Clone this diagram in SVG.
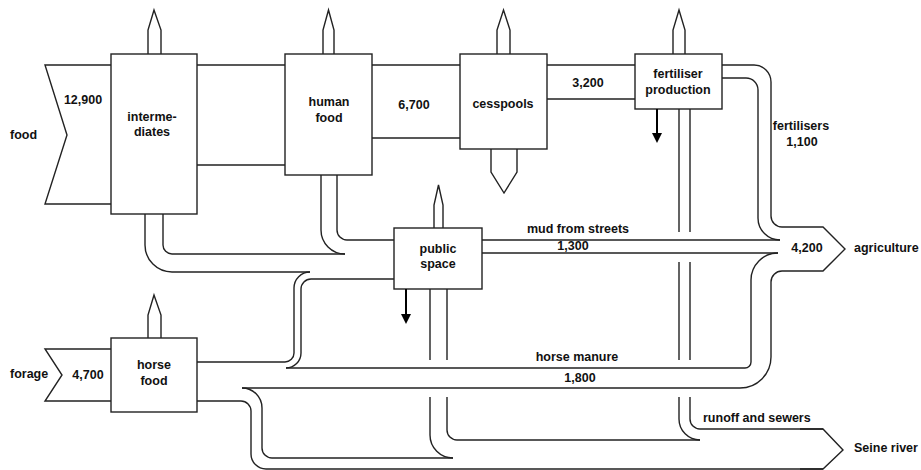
<svg xmlns="http://www.w3.org/2000/svg" width="921" height="470" viewBox="0 0 921 470">
<style>
.ln{fill:none;stroke:#222;stroke-width:1.4;stroke-linecap:butt}
.box{fill:#fff;stroke:#222;stroke-width:1.4}
.blk{fill:none;stroke:#000;stroke-width:2}
.head{fill:#000}
text{font-family:"Liberation Sans",Arial,sans-serif;font-weight:bold;font-size:12.5px;fill:#111}
.m{text-anchor:middle}
</style>
<rect width="921" height="470" fill="#fff"/>
<g id="connectors">
  <!-- intermediates -> human food -->
  <path class="ln" d="M197,65 H285 M197,165 H285"/>
  <!-- human food -> cesspools -->
  <path class="ln" d="M372,65 H460 M372,138 H460"/>
  <!-- cesspools -> fertiliser production -->
  <path class="ln" d="M547,65 H635 M547,99 H635"/>
  <!-- fertilisers to agriculture -->
  <path class="ln" d="M722,65 H754 A17,17 0 0 1 771,82 V216 A11,11 0 0 0 782,227"/>
  <path class="ln" d="M722,78 H746 A12,12 0 0 1 758,90 V218 A22,22 0 0 0 780,240"/>
  <!-- mud from streets -->
  <path class="ln" d="M482,240 H780 M482,253 H778"/>
  <!-- intermediates pipe to public space -->
  <path class="ln" d="M163,214 V245 A9,9 0 0 0 172,254 H345"/>
  <path class="ln" d="M145,214 V245 A27,27 0 0 0 172,272 H310"/>
  <!-- human food pipe to public space -->
  <path class="ln" d="M321,175 V230 A24,24 0 0 0 345,254"/>
  <path class="ln" d="M337,175 V230 A10,10 0 0 0 347,240 H394"/>
  <!-- horse food pipe to public space -->
  <path class="ln" d="M197,362 H285 A9,9 0 0 0 294,353 V288 A16,16 0 0 1 310,272"/>
  <path class="ln" d="M394,279 H311 A10,10 0 0 0 301,289 V353 A15,15 0 0 1 286,368"/>
  <!-- horse manure to agriculture -->
  <path class="ln" d="M286,368 H745 A6,6 0 0 0 751,362 V280 A27,27 0 0 1 778,253"/>
  <path class="ln" d="M242,388 H740 A31,31 0 0 0 771,357 V282 A11,11 0 0 1 782,271"/>
  <!-- horse food to Seine river -->
  <path class="ln" d="M242,388 A20,20 0 0 1 262,408 V448 A10,10 0 0 0 272,458 H453"/>
  <path class="ln" d="M197,401 H241 A10,10 0 0 1 251,411 V454 A15,15 0 0 0 266,469 H823"/>
  <!-- public space pipe to Seine river -->
  <path class="ln" d="M430,289 V360 M430,397 V435 A23,23 0 0 0 453,458"/>
  <path class="ln" d="M447,289 V360 M447,397 V430 A10,10 0 0 0 457,440 H700"/>
  <!-- runoff and sewers from fertiliser production -->
  <path class="ln" d="M679,109 V232 M679,262 V360 M679,397 V419 A21,21 0 0 0 700,440"/>
  <path class="ln" d="M690,109 V232 M690,262 V360 M690,397 V419 A10,10 0 0 0 700,429 H823"/>
</g>
<g id="food-input">
  <path class="ln" d="M111,65 H45 L67,135 L45,204 H111"/>
  <text x="10" y="139">food</text>
  <text class="m" x="83" y="104">12,900</text>
</g>
<g id="forage-input">
  <path class="ln" d="M111,349 H45 L62,375 L45,401 H111"/>
  <text x="10" y="378">forage</text>
  <text class="m" x="88" y="379">4,700</text>
</g>
<g id="intermediates">
  <path class="box" d="M148,54 V30 L154,10 L161,30 V54"/>
  <rect class="box" x="111" y="54" width="86" height="160"/>
  <text class="m" x="152" y="121">interme-</text>
  <text class="m" x="152" y="136">diates</text>
</g>
<g id="human-food">
  <path class="box" d="M323,54 V30 L328.5,10 L334,30 V54"/>
  <rect class="box" x="285" y="54" width="87" height="121"/>
  <text class="m" x="329" y="106">human</text>
  <text class="m" x="329" y="122">food</text>
</g>
<g id="cesspools">
  <path class="box" d="M497,54 V30 L503.5,10 L510,30 V54"/>
  <path class="box" d="M491,149 V172 L504,193 L517,172 V149"/>
  <rect class="box" x="460" y="54" width="87" height="95"/>
  <text class="m" x="503" y="108">cesspools</text>
</g>
<g id="fertiliser-production">
  <path class="box" d="M673,54 V30 L679,10 L685,30 V54"/>
  <rect class="box" x="635" y="54" width="87" height="55"/>
  <path class="blk" d="M657,109 V134"/>
  <path class="head" d="M652,133 H662 L657,143 Z"/>
  <text class="m" x="678" y="78">fertiliser</text>
  <text class="m" x="678" y="94">production</text>
</g>
<g id="public-space">
  <path class="box" d="M434,228 V205 L438.5,185 L443,205 V228"/>
  <rect class="box" x="394" y="228" width="88" height="61"/>
  <path class="blk" d="M406,289 V315"/>
  <path class="head" d="M401,314 H411 L406,324 Z"/>
  <text class="m" x="438" y="253">public</text>
  <text class="m" x="438" y="268">space</text>
</g>
<g id="horse-food">
  <path class="box" d="M148,338 V315 L154,295 L161,315 V338"/>
  <rect class="box" x="111" y="338" width="86" height="74"/>
  <text class="m" x="154" y="369">horse</text>
  <text class="m" x="154" y="385">food</text>
</g>
<g id="agriculture">
  <path class="ln" d="M782,227 H823 L845,249 L823,271 H782"/>
  <text class="m" x="807" y="252">4,200</text>
  <text x="854" y="252">agriculture</text>
</g>
<g id="seine-river">
  <path class="ln" d="M800,429 H823 L843,450 L823,469 H800"/>
  <text x="854" y="452">Seine river</text>
</g>
<g id="labels">
  <text class="m" x="414" y="109">6,700</text>
  <text class="m" x="588" y="87">3,200</text>
  <text class="m" x="801" y="130">fertilisers</text>
  <text class="m" x="802" y="146">1,100</text>
  <text class="m" x="578" y="233">mud from streets</text>
  <text class="m" x="573" y="250">1,300</text>
  <text class="m" x="577" y="361">horse manure</text>
  <text class="m" x="580" y="382">1,800</text>
  <text x="703" y="422">runoff and sewers</text>
</g>
</svg>
